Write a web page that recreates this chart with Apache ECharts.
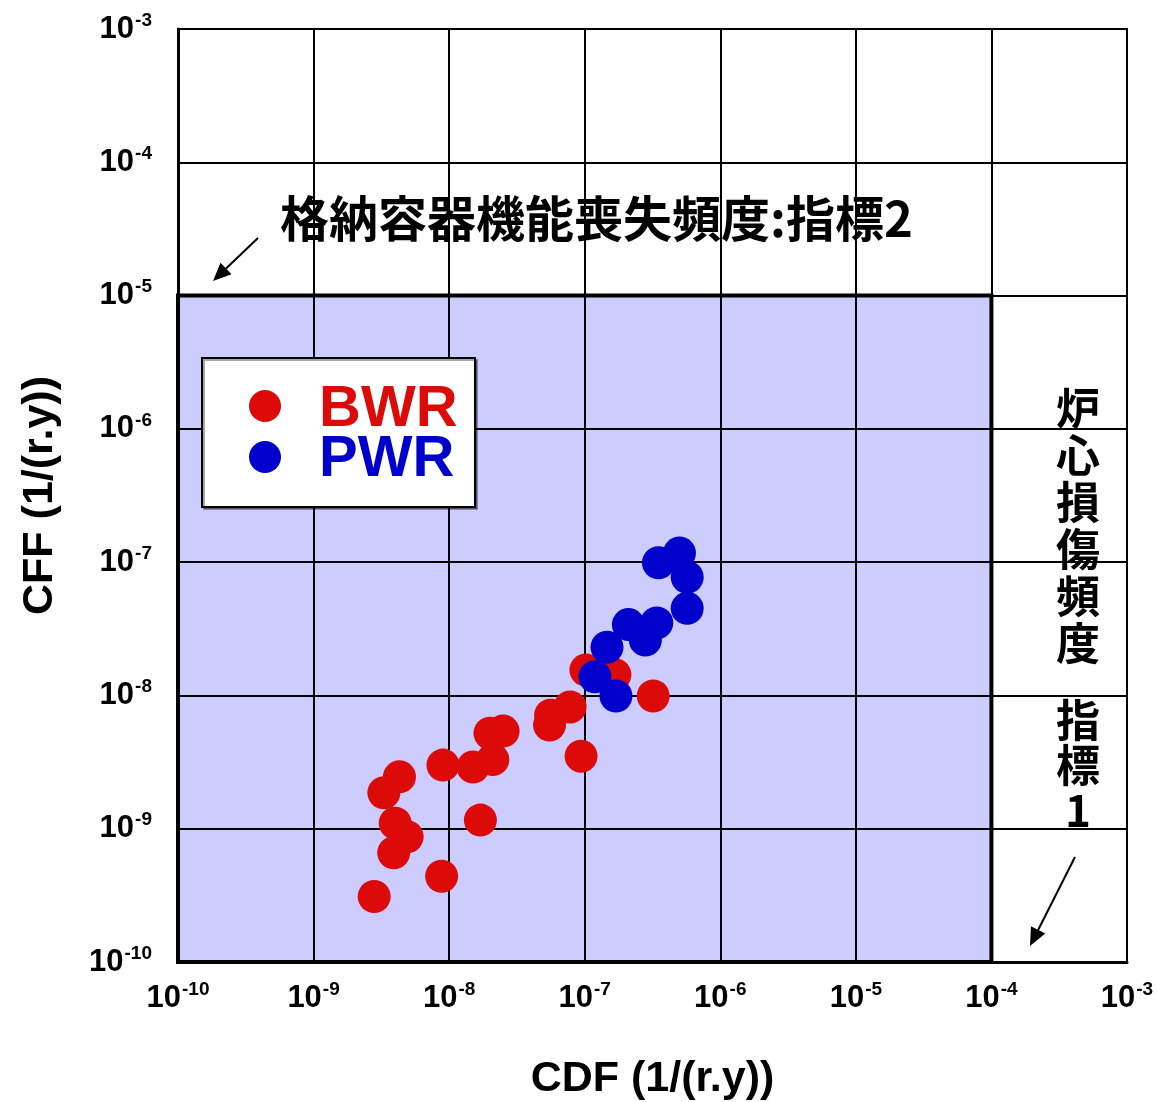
<!DOCTYPE html>
<html>
<head>
<meta charset="utf-8">
<script src="https://cdn.jsdelivr.net/npm/echarts@6/dist/echarts.min.js"></script>
<style>
html,body{margin:0;padding:0;background:#fff;}
#chart{width:1157px;height:1102px;}
</style>
</head>
<body>
<div id="chart"></div>
<script>
// ---- data ----
const seriesNames = ['BWR', 'PWR'];
const bwrCDF = [2.8e-9, 8.8e-9, 4.0e-9, 4.9e-9, 3.9e-9, 3.3e-9, 4.3e-9, 9.0e-9, 1.5e-8, 2.1e-8, 2.0e-8, 2.5e-8, 1.7e-8, 5.6e-8, 5.5e-8, 7.8e-8, 9.4e-8, 1.02e-7, 1.67e-7, 3.2e-7];
const bwrCFF = [3.1e-10, 4.4e-10, 1.1e-9, 8.7e-10, 6.6e-10, 1.86e-9, 2.45e-9, 3.0e-9, 2.9e-9, 3.3e-9, 5.2e-9, 5.4e-9, 1.16e-9, 7.1e-9, 6.0e-9, 8.2e-9, 3.5e-9, 1.55e-8, 1.43e-8, 9.9e-9];
const pwrCDF = [5.0e-7, 3.5e-7, 5.7e-7, 5.7e-7, 3.4e-7, 2.1e-7, 2.8e-7, 1.46e-7, 1.19e-7, 1.7e-7];
const pwrCFF = [1.17e-7, 9.9e-8, 7.7e-8, 4.5e-8, 3.5e-8, 3.4e-8, 2.6e-8, 2.3e-8, 1.38e-8, 9.9e-9];
const axisMin = 1e-10, axisMax = 1e-3;
const cdfLimit = 1e-4;   // 炉心損傷頻度 指標1
const cffLimit = 1e-5;   // 格納容器機能喪失頻度 指標2
const xTitle = 'CDF (1/(r.y))';
const yTitle = 'CFF (1/(r.y))';
const cffLabel = '格納容器機能喪失頻度:指標2';
const cdfLabel1 = '炉\n心\n損\n傷\n頻\n度';
const cdfLabel2 = '指\n標\n1';

const RED = '#dd0a0a', BLUE = '#0000cc', AREA = '#ccccff';
const LATIN = '"Liberation Sans", Arial, sans-serif';
const CJK = '"Noto Sans CJK JP", sans-serif';

const zip = (a, b) => a.map((v, i) => [v, b[i]]);

function tickFmt(v) {
  const e = Math.round(Math.log10(v));
  return '{b|10}{s|' + e + '}';
}
const richLabel = {
  b: {fontSize: 31, fontWeight: 'bold', fontFamily: LATIN, color: '#000', lineHeight: 36},
  s: {fontSize: 19, fontWeight: 'bold', fontFamily: LATIN, color: '#000', lineHeight: 22, verticalAlign: 'top', padding: [0, 0, 0, 1]}
};

function arrow(x1, y1, x2, y2) {
  const ang = Math.atan2(y2 - y1, x2 - x1);
  const L = 18, W = 8;
  const bx = x2 - L * Math.cos(ang), by = y2 - L * Math.sin(ang);
  const px = -Math.sin(ang) * W, py = Math.cos(ang) * W;
  return [
    {type: 'line', shape: {x1: x1, y1: y1, x2: bx, y2: by}, style: {stroke: '#000', lineWidth: 2}, z: 50},
    {type: 'polygon', shape: {points: [[x2, y2], [bx + px, by + py], [bx - px, by - py]]}, style: {fill: '#000'}, z: 50}
  ];
}

const chart = echarts.init(document.getElementById('chart'), null, {renderer: 'canvas'});
const option = {
  backgroundColor: '#fff',
  animation: false,
  grid: {left: 178, right: 30, top: 29, bottom: 140, containLabel: false, outerBoundsMode: 'none',
    show: true, borderColor: '#000', borderWidth: 2, backgroundColor: '#fff'},
  xAxis: {
    type: 'log', logBase: 10, min: axisMin, max: axisMax, interval: 1, z: 5,
    name: xTitle, nameLocation: 'middle', nameGap: 96,
    nameTextStyle: {fontSize: 43, fontWeight: 'bold', fontFamily: LATIN, color: '#000'},
    axisLine: {show: true, lineStyle: {color: '#000', width: 3}},
    axisTick: {show: false},
    minorTick: {show: false},
    splitLine: {show: true, lineStyle: {color: '#000', width: 2}},
    axisLabel: {formatter: tickFmt, rich: richLabel, margin: 18, showMinLabel: true, showMaxLabel: true}
  },
  yAxis: {
    type: 'log', logBase: 10, min: axisMin, max: axisMax, interval: 1, z: 5,
    name: yTitle, nameLocation: 'middle', nameGap: 116, nameRotate: 90,
    nameTextStyle: {fontSize: 43, fontWeight: 'bold', fontFamily: LATIN, color: '#000'},
    axisLine: {show: true, lineStyle: {color: '#000', width: 3}},
    axisTick: {show: false},
    splitLine: {show: true, lineStyle: {color: '#000', width: 2}},
    axisLabel: {formatter: tickFmt, rich: richLabel, margin: 26, showMinLabel: true, showMaxLabel: true}
  },
  series: [
    {
      type: 'scatter', name: 'region', data: [], z: 1, silent: true,
      markArea: {
        silent: true,
        itemStyle: {color: AREA, borderColor: '#000', borderWidth: 4},
        data: [[{coord: [axisMin, axisMin]}, {coord: [cdfLimit, cffLimit]}]]
      }
    },
    {
      type: 'scatter', name: seriesNames[0], data: zip(bwrCDF, bwrCFF), z: 10,
      symbol: 'circle', symbolSize: 33, itemStyle: {color: RED, opacity: 1}
    },
    {
      type: 'scatter', name: seriesNames[1], data: zip(pwrCDF, pwrCFF), z: 11,
      symbol: 'circle', symbolSize: 33, itemStyle: {color: BLUE, opacity: 1}
    }
  ],
  graphic: [
    // legend box
    {type: 'rect', shape: {x: 202, y: 358, width: 273, height: 149},
      style: {fill: '#fff', stroke: '#000', lineWidth: 2, shadowColor: 'rgba(0,0,0,0.35)', shadowOffsetX: 2, shadowOffsetY: 2, shadowBlur: 0}, z: 40},
    {type: 'circle', shape: {cx: 265, cy: 406, r: 16}, style: {fill: RED}, z: 41},
    {type: 'circle', shape: {cx: 265, cy: 457, r: 16}, style: {fill: BLUE}, z: 41},
    {type: 'text', x: 319, y: 410, style: {text: seriesNames[0], fill: RED, font: 'bold 58px ' + LATIN, textAlign: 'left', textVerticalAlign: 'middle'}, z: 41},
    {type: 'text', x: 319, y: 460, style: {text: seriesNames[1], fill: BLUE, font: 'bold 58px ' + LATIN, textAlign: 'left', textVerticalAlign: 'middle'}, z: 41},
    // annotations
    {type: 'text', x: 280, y: 218, style: {text: cffLabel, fill: '#000', font: 'bold 49px ' + CJK, textAlign: 'left', textVerticalAlign: 'middle'}, z: 41},
    {type: 'text', x: 1078, y: 385, style: {text: cdfLabel1, fill: '#000', font: 'bold 44px ' + CJK, lineHeight: 47, textAlign: 'center', textVerticalAlign: 'top'}, z: 41},
    {type: 'text', x: 1078, y: 698, style: {text: cdfLabel2, fill: '#000', font: 'bold 44px ' + CJK, lineHeight: 45, textAlign: 'center', textVerticalAlign: 'top'}, z: 41}
  ].concat(arrow(258, 238, 213, 281)).concat(arrow(1075, 857, 1030, 946))
};
chart.setOption(option);
</script>
</body>
</html>
